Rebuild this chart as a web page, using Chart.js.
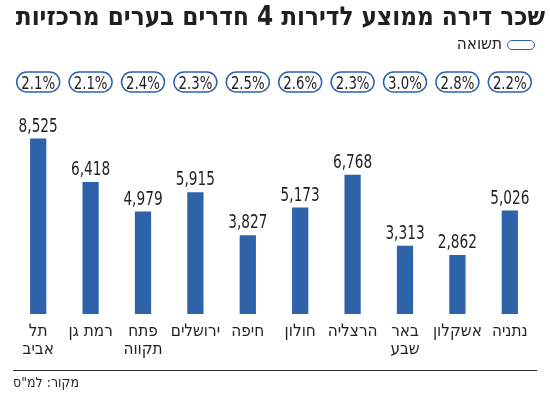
<!DOCTYPE html>
<html lang="he">
<head>
<meta charset="utf-8">
<script src="https://cdn.jsdelivr.net/npm/chart.js@4"></script>
<style>
  html, body { margin: 0; padding: 0; background: #fff; }
  #wrap { position: relative; width: 550px; height: 398px; overflow: hidden; }
  #chart { position: absolute; left: 0; top: 0; }
  .title {
    position: absolute; right: 5px; top: 1px; direction: rtl; white-space: nowrap;
    font-family: "DejaVu Sans Condensed", "DejaVu Sans", sans-serif; font-weight: bold;
    font-size: 25.8px; color: #231f20;
  }
  .legend {
    position: absolute; right: 48px; top: 33px; direction: rtl;
    font-family: "DejaVu Sans Condensed", sans-serif;
    font-size: 17px; color: #231f20;
  }
  .legend-pill {
    position: absolute; left: 507px; top: 40px; width: 26px; height: 8px;
    border: 1.5px solid #2a63ad; border-radius: 6px; background: #fff;
  }
  .rule { position: absolute; left: 13px; top: 370px; width: 524px; height: 0; border-top: 1.5px solid #333; }
  .source {
    position: absolute; left: 13px; top: 374px; direction: rtl;
    font-family: "DejaVu Sans Condensed", sans-serif;
    font-size: 14px; color: #231f20;
  }
</style>
</head>
<body>
<div id="wrap">
  <canvas id="chart" width="550" height="398"></canvas>
  <div class="title">שכר דירה ממוצע לדירות 4 חדרים בערים מרכזיות</div>
  <div class="legend-pill"></div>
  <div class="legend">תשואה</div>
  <div class="rule"></div>
  <div class="source">מקור: למ"ס</div>
</div>
<script>
const cities = [['תל', 'אביב'], 'רמת גן', ['פתח', 'תקווה'], 'ירושלים', 'חיפה', 'חולון', 'הרצליה', ['באר', 'שבע'], 'אשקלון', 'נתניה'];
const rents = [8525, 6418, 4979, 5915, 3827, 5173, 6768, 3313, 2862, 5026];
const yields = ['2.1%', '2.1%', '2.4%', '2.3%', '2.5%', '2.6%', '2.3%', '3.0%', '2.8%', '2.2%'];

const blue = '#2e62a9';
const ink = '#231f20';
const condensed = '"DejaVu Sans Condensed", sans-serif';

// draw text squeezed horizontally, the source uses a narrow face
function narrowText(ctx, text, x, y, squeeze) {
    ctx.save();
    ctx.translate(x, y);
    ctx.scale(squeeze, 1);
    ctx.fillText(text, 0, 0);
    ctx.restore();
}

const overlay = {
    id: 'overlay',
    afterDatasetsDraw(chart) {
        const ctx = chart.ctx;
        const meta = chart.getDatasetMeta(0);
        ctx.save();
        ctx.textAlign = 'center';
        meta.data.forEach((bar, i) => {
            // value above bar
            ctx.fillStyle = ink;
            ctx.font = '19px "DejaVu Sans", sans-serif';
            ctx.textBaseline = 'alphabetic';
            narrowText(ctx, rents[i].toLocaleString('en-US'), bar.x, bar.y - 7, 0.72);

            // yield pill
            const w = 43, h = 20, cy = 82;
            ctx.beginPath();
            ctx.roundRect(bar.x - w / 2, cy - h / 2, w, h, 10);
            ctx.fillStyle = '#fff';
            ctx.fill();
            ctx.lineWidth = 1.5;
            ctx.strokeStyle = '#2a63ad';
            ctx.stroke();
            ctx.fillStyle = ink;
            ctx.font = '18px "DejaVu Sans", sans-serif';
            narrowText(ctx, yields[i], bar.x, cy + 6.5, 0.74);
        });
        ctx.restore();
    }
};

new Chart(document.getElementById('chart').getContext('2d'), {
    type: 'bar',
    data: {
        labels: cities,
        datasets: [{
            data: rents,
            backgroundColor: blue,
            borderWidth: 0,
            barPercentage: 0.31,
            categoryPercentage: 1
        }]
    },
    options: {
        responsive: false,
        animation: false,
        layout: { padding: { top: 100, left: 12, right: 14, bottom: 38 } },
        plugins: { legend: { display: false }, tooltip: { enabled: false } },
        scales: {
            x: {
                grid: { display: false },
                border: { display: false },
                ticks: {
                    color: ink,
                    padding: 1,
                    maxRotation: 0,
                    autoSkip: false,
                    font: { family: condensed, size: 17, lineHeight: 1.06 }
                }
            },
            y: {
                display: false,
                min: 0,
                max: 10400
            }
        }
    },
    plugins: [overlay]
});
</script>
</body>
</html>
